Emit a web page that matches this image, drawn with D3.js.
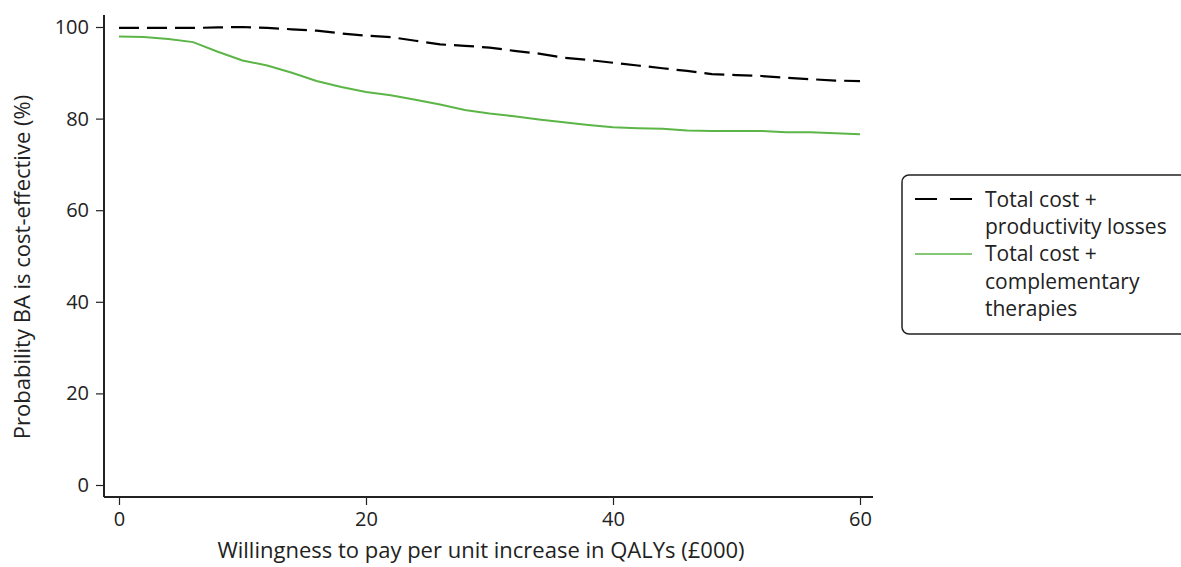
<!DOCTYPE html>
<html>
<head>
<meta charset="utf-8">
<script src="https://cdn.jsdelivr.net/npm/d3@7"></script>
<style>
  html, body { margin: 0; padding: 0; background: #fff; }
  svg { display: block; font-family: "Open Sans", sans-serif; }
</style>
</head>
<body>
<svg id="chart" width="1181" height="567"></svg>
<script>
// ---- data ----
const wtp = [0,2,4,6,8,10,12,14,16,18,20,22,24,26,28,30,32,34,36,38,40,42,44,46,48,50,52,54,56,58,60];
const productivityLosses = [99.8,99.8,99.8,99.8,99.9,100,99.8,99.5,99.2,98.6,98.1,97.8,97.0,96.2,95.9,95.5,94.8,94.2,93.3,92.8,92.2,91.6,91.0,90.4,89.7,89.5,89.3,88.9,88.6,88.3,88.2];
const complementaryTherapies = [97.9,97.8,97.4,96.7,94.6,92.7,91.6,90.0,88.2,86.9,85.8,85.1,84.1,83.1,81.9,81.1,80.5,79.8,79.2,78.6,78.1,77.9,77.8,77.4,77.3,77.3,77.3,77.0,77.0,76.8,76.6];
const xTicks = [0,20,40,60];
const yTicks = [0,20,40,60,80,100];
const seriesNames = [["Total cost +","productivity losses"],["Total cost +","complementary","therapies"]];
const xTitle = "Willingness to pay per unit increase in QALYs (£000)";
const yTitle = "Probability BA is cost-effective (%)";

const green = "#5cb547";
const svg = d3.select("#chart");

const x = d3.scaleLinear().domain([0,60]).range([119,860]);
const y = d3.scaleLinear().domain([0,100]).range([485,27]);

// axes
const xAxis = d3.axisBottom(x).tickValues(xTicks).tickSize(8).tickPadding(7).tickSizeOuter(0);
const gx = svg.append("g").attr("transform","translate(0,497)").call(xAxis);
gx.select(".domain").attr("d","M104,0H873").attr("stroke","#222").attr("stroke-width",2);
gx.selectAll(".tick line").attr("stroke","#222").attr("stroke-width",1.2);
gx.selectAll(".tick text").attr("font-size",20).attr("fill","#222").attr("font-family","Open Sans, sans-serif");

const yAxis = d3.axisLeft(y).tickValues(yTicks).tickSize(8).tickPadding(7).tickSizeOuter(0);
const gy = svg.append("g").attr("transform","translate(104,0)").call(yAxis);
gy.select(".domain").attr("d","M0,15V497").attr("stroke","#222").attr("stroke-width",2);
gy.selectAll(".tick line").attr("stroke","#222").attr("stroke-width",1.2);
gy.selectAll(".tick text").attr("font-size",20).attr("fill","#222").attr("font-family","Open Sans, sans-serif");

// titles
svg.append("text").attr("x",481).attr("y",558).attr("text-anchor","middle")
  .attr("font-size",22).attr("fill","#222").text(xTitle);
svg.append("text").attr("transform","translate(30,267) rotate(-90)").attr("text-anchor","middle")
  .attr("font-size",22).attr("fill","#222").text(yTitle);

// lines
const line = d3.line().x((d,i)=>x(wtp[i])).y(d=>y(d));
svg.append("path").datum(complementaryTherapies).attr("d",line)
  .attr("fill","none").attr("stroke",green).attr("stroke-width",2);
svg.append("path").datum(productivityLosses).attr("d",line)
  .attr("fill","none").attr("stroke","#000").attr("stroke-width",2.2).attr("stroke-dasharray","20,8");

// legend
const lg = svg.append("g");
lg.append("rect").attr("x",902).attr("y",175).attr("width",300).attr("height",159).attr("rx",7)
  .attr("fill","#fff").attr("stroke","#222").attr("stroke-width",1.5);
lg.append("line").attr("x1",915).attr("x2",972).attr("y1",199).attr("y2",199)
  .attr("stroke","#000").attr("stroke-width",2).attr("stroke-dasharray","22,13");
lg.append("line").attr("x1",915).attr("x2",972).attr("y1",254).attr("y2",254)
  .attr("stroke",green).attr("stroke-width",1.5);
const lines = [seriesNames[0][0],seriesNames[0][1],seriesNames[1][0],seriesNames[1][1],seriesNames[1][2]];
lines.forEach((t,i)=>{
  lg.append("text").attr("x",985).attr("y",207 + i*27.2).attr("font-size",21).attr("fill","#222").text(t);
});
</script>
</body>
</html>
